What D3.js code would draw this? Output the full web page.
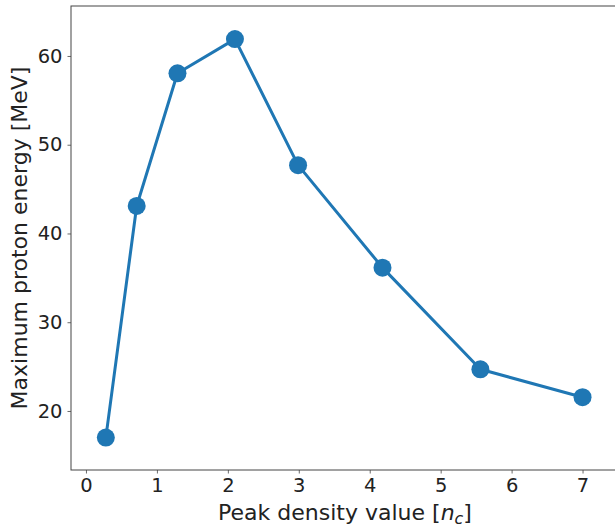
<!DOCTYPE html>
<html>
<head>
<meta charset="utf-8">
<script src="https://cdn.jsdelivr.net/npm/d3@7"></script>
<style>
  body { margin: 0; background: #fff; }
  svg text { font-family: "DejaVu Sans", sans-serif; fill: #222; }
</style>
</head>
<body>
<svg id="chart" width="615" height="530"></svg>
<script>
// Peak density (in n_c) vs max proton energy (MeV).
const density = [0.28, 0.715, 1.29, 2.1, 2.99, 4.18, 5.56, 7.0];
const energy = [17.0, 43.1, 58.05, 61.9, 47.7, 36.15, 24.7, 21.55];
const xTicks = [0, 1, 2, 3, 4, 5, 6, 7];
const yTicks = [20, 30, 40, 50, 60];

const svg = d3.select("#chart");

// plot box (right spine falls just outside the window)
const plotL = 71, plotR = 619, plotT = 6, plotB = 470;

const x = d3.scaleLinear().domain([-0.211, 7.514]).range([plotL, plotR]);
const y = d3.scaleLinear().domain([13.35, 65.63]).range([plotB, plotT]);

const tickSize = 19.5, labelSize = 22;
const blue = "#1f77b4";

// axes
const xAxis = svg.append("g")
    .attr("transform", `translate(0,${plotB})`)
    .call(d3.axisBottom(x).tickValues(xTicks).tickSize(3.5).tickPadding(5).tickFormat(d3.format("d")));
const yAxis = svg.append("g")
    .attr("transform", `translate(${plotL},0)`)
    .call(d3.axisLeft(y).tickValues(yTicks).tickSize(3.5).tickPadding(5).tickFormat(d3.format("d")));

[xAxis, yAxis].forEach(g => {
    g.select(".domain").remove();
    g.selectAll(".tick line").attr("stroke", "#444").attr("stroke-width", 0.8);
    g.selectAll(".tick text").attr("font-size", tickSize).attr("fill", "#222")
        .attr("font-family", "DejaVu Sans, sans-serif");
});

// spines
svg.append("rect")
    .attr("x", plotL).attr("y", plotT)
    .attr("width", plotR - plotL).attr("height", plotB - plotT)
    .attr("fill", "none").attr("stroke", "#444").attr("stroke-width", 1);

// line + markers
const pts = density.map((d, i) => [d, energy[i]]);
svg.append("path")
    .datum(pts)
    .attr("fill", "none")
    .attr("stroke", blue)
    .attr("stroke-width", 3)
    .attr("stroke-linejoin", "round")
    .attr("d", d3.line().x(d => x(d[0])).y(d => y(d[1])));

svg.append("g").selectAll("circle")
    .data(pts)
    .enter().append("circle")
    .attr("cx", d => x(d[0]))
    .attr("cy", d => y(d[1]))
    .attr("r", 9)
    .attr("fill", blue);

// axis labels
const xl = svg.append("text")
    .attr("x", 345)
    .attr("y", 520)
    .attr("text-anchor", "middle")
    .attr("font-size", labelSize);
xl.append("tspan").text("Peak density value [");
xl.append("tspan").attr("font-style", "italic").text("n");
xl.append("tspan").attr("font-style", "italic").attr("font-size", labelSize * 0.72).attr("dy", 4).text("c");
xl.append("tspan").attr("dy", -4).text("]");

svg.append("text")
    .attr("transform", `translate(27,238) rotate(-90)`)
    .attr("text-anchor", "middle")
    .attr("font-size", labelSize)
    .text("Maximum proton energy [MeV]");
</script>
</body>
</html>
